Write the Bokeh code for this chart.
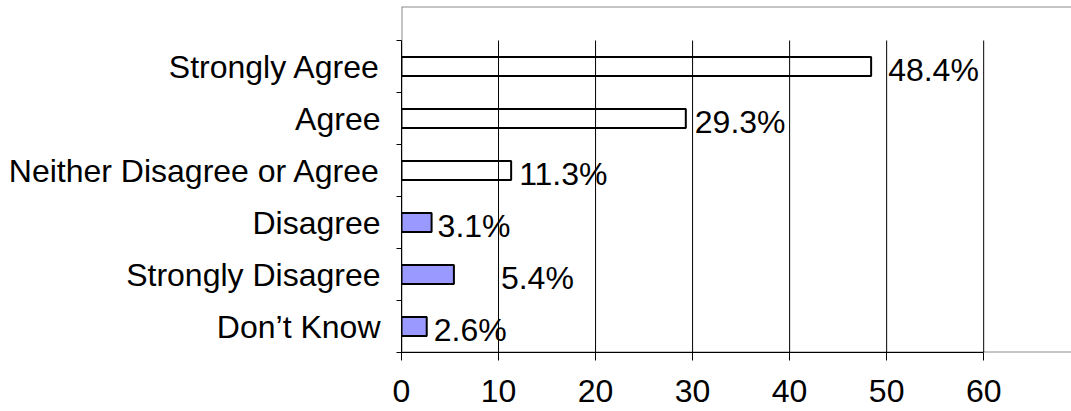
from bokeh.plotting import figure
from bokeh.models import FixedTicker, Range1d, Span, ColumnDataSource
from bokeh.core.properties import value
from bokeh.embed import file_html
from bokeh.resources import INLINE

# Survey responses, top to bottom
categories = ["Strongly Agree", "Agree", "Neither Disagree or Agree",
              "Disagree", "Strongly Disagree", "Don\u2019t Know"]
percentages = [48.4, 29.3, 11.3, 3.1, 5.4, 2.6]
value_labels = ["48.4%", "29.3%", "11.3%", "3.1%", "5.4%", "2.6%"]
x_ticks = [0, 10, 20, 30, 40, 50, 60]

# styling
fills = ["white", "white", "white", "#9999FF", "#9999FF", "#9999FF"]
label_dx = [17, 9, 8, 6, 47, 7]
FONT = "Liberation Sans"
FS = "32px"

n = len(categories)
# row centres: first category at the top
ypos = [n - i - 0.5 for i in range(n)]

src = ColumnDataSource(dict(y=ypos, v=percentages, fill=fills,
                            lab=value_labels, dx=label_dx))

p = figure(width=1071, height=411, output_backend="svg", toolbar_location=None,
           x_range=Range1d(0, 69.05), y_range=Range1d(0, n + 34 / 52))
p.min_border_left = 401
p.min_border_right = 0
p.min_border_top = 6
p.min_border_bottom = 59
p.outline_line_color = None
p.background_fill_color = "white"
p.border_fill_color = "white"
p.xgrid.visible = False
p.ygrid.visible = False

# grey frame edges
grey = "#8c8c8c"
for loc, dim in [(n + 34 / 52, "width"), (0, "width"), (0, "height")]:
    p.add_layout(Span(location=loc, dimension=dim, line_color=grey,
                      line_width=2, level="underlay"))

p.hbar(y="y", right="v", left=0, height=0.37, source=src,
       fill_color="fill", line_color="black", line_width=2)

# vertical grid lines over the category rows
gx = x_ticks[1:]
p.segment(x0=gx, x1=gx, y0=[0] * len(gx), y1=[n] * len(gx),
          line_color="black", line_width=1)

p.text(x="v", y="y", text="lab", source=src, x_offset="dx", y_offset=3,
       text_align="left", text_baseline="middle",
       text_font=value(FONT), text_font_size=FS, text_color="black")

# x axis
xa = p.xaxis[0]
xa.ticker = FixedTicker(ticks=x_ticks)
xa.bounds = (0, 60)
xa.axis_line_color = "black"
xa.axis_line_width = 1
xa.major_tick_out = 8
xa.major_tick_in = 0
xa.minor_tick_out = 0
xa.minor_tick_in = 0
xa.major_label_standoff = 19
xa.major_label_text_font = FONT
xa.major_label_text_font_size = FS
xa.major_label_text_color = "black"

# y axis: labels at row centres, ticks at row boundaries
ya = p.yaxis[0]
ya.ticker = FixedTicker(ticks=ypos, minor_ticks=list(range(n + 1)))
ya.major_label_overrides = {y: c for y, c in zip(ypos, categories)}
ya.bounds = (0, n)
ya.axis_line_color = "black"
ya.axis_line_width = 1
ya.major_tick_out = 0
ya.major_tick_in = 0
ya.minor_tick_out = 5
ya.minor_tick_in = 0
ya.major_label_standoff = 16
ya.major_label_text_font = FONT
ya.major_label_text_font_size = FS
ya.major_label_text_color = "black"

open("out.html", "w").write(file_html(p, INLINE))
